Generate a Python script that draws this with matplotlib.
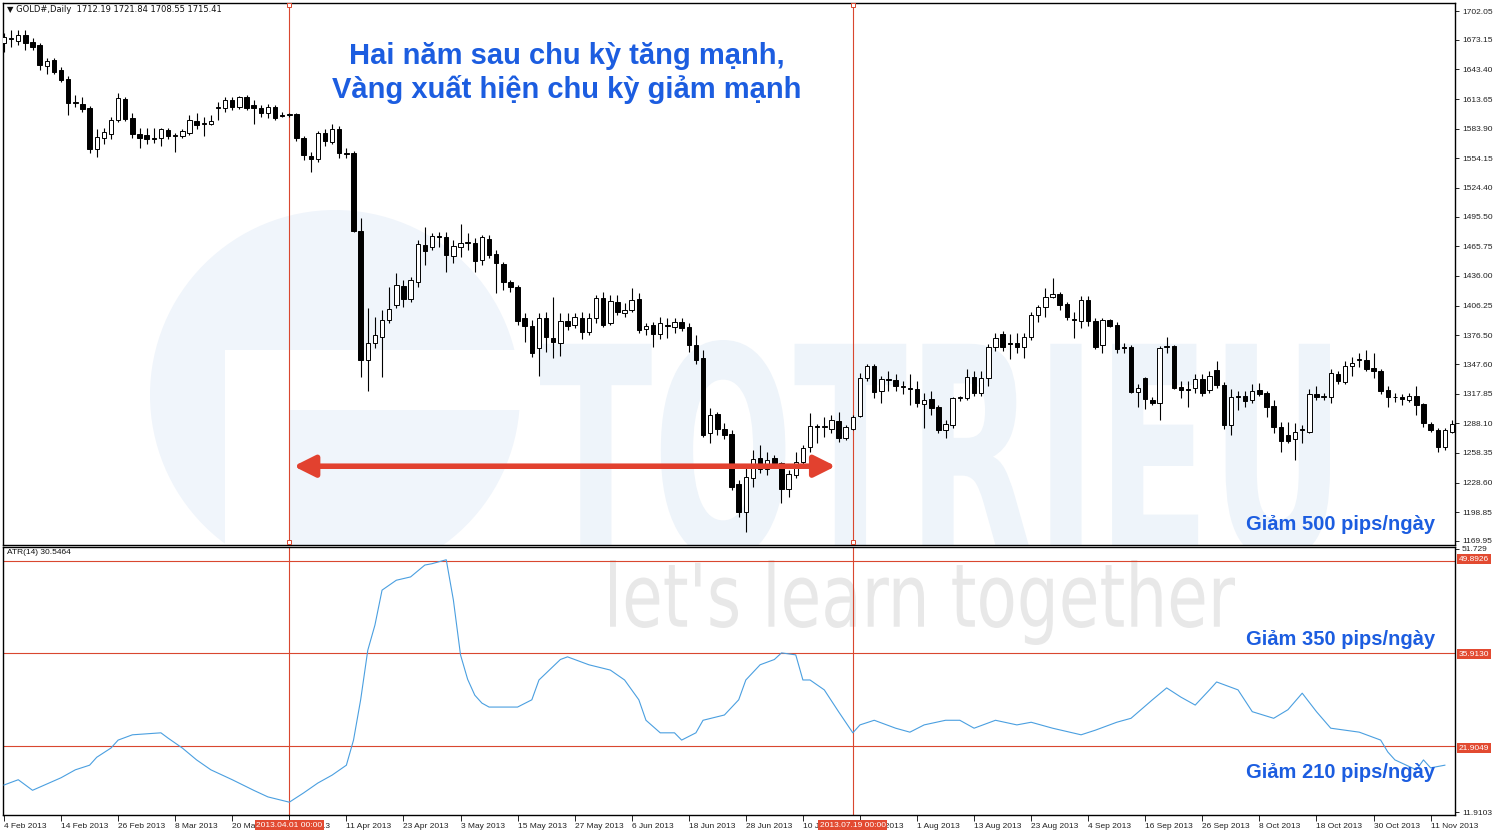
import matplotlib
matplotlib.use("Agg")
import matplotlib.pyplot as plt
from matplotlib.patches import PathPatch, Circle, Rectangle
from matplotlib.textpath import TextPath
from matplotlib.font_manager import FontProperties
from matplotlib import transforms

# --- du lieu nen ngay GOLD (doc tu hinh) ---
opens = [1670, 1674, 1672, 1678, 1671, 1668, 1647, 1653, 1643, 1634,
         1610, 1609, 1605, 1564, 1575, 1579, 1593, 1614, 1595, 1579,
         1578, 1575, 1575, 1583, 1577, 1577, 1580, 1592, 1589, 1589,
         1605, 1605, 1613, 1606, 1616, 1608, 1605, 1600, 1606, 1598,
         1598, 1599, 1575, 1556, 1553, 1580, 1571, 1584, 1559, 1559,
         1481, 1352, 1369, 1375, 1392, 1407, 1426, 1413, 1430, 1467,
         1465, 1476, 1475, 1456, 1465, 1469, 1469, 1452, 1473, 1458,
         1448, 1430, 1425, 1394, 1386, 1364, 1394, 1374, 1369, 1391,
         1387, 1394, 1380, 1394, 1414, 1389, 1410, 1399, 1402, 1413,
         1383, 1387, 1378, 1387, 1385, 1390, 1385, 1367, 1354, 1278,
         1297, 1282, 1277, 1227, 1199, 1233, 1253, 1242, 1253, 1248,
         1222, 1236, 1249, 1264, 1285, 1284, 1282, 1290, 1273, 1282,
         1295, 1334, 1346, 1321, 1333, 1332, 1325, 1324, 1323, 1307,
         1312, 1304, 1281, 1286, 1313, 1313, 1335, 1319, 1334, 1365,
         1378, 1369, 1369, 1365, 1375, 1397, 1405, 1415, 1418, 1408,
         1393, 1391, 1412, 1391, 1367, 1392, 1387, 1365, 1365, 1320,
         1334, 1311, 1308, 1365, 1366, 1325, 1323, 1324, 1333, 1322,
         1342, 1327, 1286, 1316, 1316, 1311, 1322, 1319, 1305, 1284,
         1276, 1272, 1282, 1279, 1318, 1315, 1314, 1338, 1330, 1346,
         1352, 1352, 1344, 1341, 1322, 1314, 1314, 1311, 1316, 1307,
         1287, 1281, 1264, 1279]
highs = [1680, 1683, 1683, 1683, 1675, 1670, 1655, 1655, 1646, 1637,
         1618, 1616, 1607, 1584, 1585, 1596, 1620, 1616, 1600, 1585,
         1585, 1585, 1585, 1585, 1580, 1584, 1598, 1600, 1596, 1598,
         1611, 1616, 1616, 1617, 1618, 1613, 1608, 1609, 1608, 1601,
         1600, 1600, 1577, 1560, 1582, 1584, 1589, 1587, 1565, 1562,
         1494, 1404, 1395, 1402, 1425, 1439, 1432, 1435, 1472, 1485,
         1479, 1480, 1480, 1472, 1488, 1479, 1474, 1477, 1477, 1462,
         1450, 1432, 1427, 1399, 1392, 1399, 1400, 1415, 1399, 1399,
         1399, 1400, 1399, 1417, 1420, 1417, 1417, 1409, 1424, 1419,
         1389, 1390, 1395, 1394, 1394, 1394, 1389, 1377, 1362, 1303,
         1299, 1288, 1281, 1231, 1243, 1261, 1266, 1259, 1256, 1249,
         1241, 1259, 1266, 1298, 1287, 1294, 1296, 1299, 1286, 1296,
         1339, 1348, 1348, 1336, 1341, 1338, 1331, 1338, 1331, 1319,
         1321, 1306, 1291, 1314, 1316, 1343, 1341, 1341, 1368, 1379,
         1381, 1378, 1379, 1379, 1400, 1407, 1424, 1434, 1420, 1410,
         1400, 1416, 1416, 1394, 1394, 1393, 1390, 1369, 1367, 1328,
         1335, 1314, 1366, 1375, 1367, 1331, 1331, 1338, 1338, 1341,
         1351, 1330, 1323, 1321, 1321, 1328, 1329, 1321, 1311, 1289,
         1289, 1288, 1286, 1323, 1326, 1319, 1343, 1341, 1351, 1355,
         1359, 1362, 1359, 1343, 1326, 1319, 1318, 1319, 1326, 1308,
         1289, 1283, 1283, 1291]
lows = [1661, 1666, 1668, 1663, 1663, 1643, 1639, 1639, 1631, 1598,
        1606, 1601, 1559, 1555, 1569, 1574, 1591, 1592, 1575, 1565,
        1569, 1570, 1567, 1574, 1560, 1575, 1578, 1584, 1577, 1588,
        1593, 1601, 1603, 1604, 1603, 1589, 1596, 1595, 1593, 1596,
        1596, 1572, 1552, 1540, 1550, 1567, 1569, 1554, 1554, 1480,
        1335, 1321, 1364, 1335, 1389, 1404, 1405, 1410, 1425, 1447,
        1462, 1465, 1440, 1449, 1455, 1462, 1440, 1447, 1454, 1419,
        1422, 1420, 1387, 1370, 1355, 1336, 1360, 1354, 1356, 1382,
        1384, 1373, 1377, 1389, 1385, 1387, 1397, 1395, 1400, 1379,
        1377, 1365, 1373, 1374, 1379, 1381, 1360, 1348, 1274, 1268,
        1276, 1272, 1221, 1194, 1179, 1224, 1238, 1236, 1246, 1208,
        1214, 1233, 1246, 1259, 1268, 1274, 1278, 1269, 1271, 1281,
        1294, 1331, 1313, 1308, 1321, 1321, 1318, 1306, 1304, 1283,
        1296, 1278, 1273, 1283, 1310, 1311, 1316, 1316, 1326, 1361,
        1361, 1353, 1359, 1354, 1372, 1390, 1395, 1414, 1402, 1392,
        1374, 1384, 1386, 1363, 1359, 1385, 1359, 1359, 1319, 1304,
        1302, 1306, 1291, 1359, 1323, 1313, 1304, 1319, 1316, 1319,
        1324, 1282, 1276, 1301, 1304, 1308, 1316, 1294, 1278, 1259,
        1268, 1251, 1268, 1278, 1311, 1311, 1308, 1328, 1328, 1336,
        1345, 1341, 1334, 1318, 1304, 1309, 1306, 1309, 1296, 1284,
        1279, 1259, 1261, 1278]
closes = [1676, 1675, 1678, 1670, 1666, 1648, 1652, 1641, 1633, 1610,
          1611, 1604, 1564, 1576, 1581, 1593, 1615, 1594, 1579, 1575,
          1574, 1574, 1584, 1577, 1578, 1582, 1593, 1588, 1590, 1592,
          1606, 1613, 1606, 1616, 1605, 1605, 1600, 1606, 1595, 1597,
          1599, 1575, 1557, 1553, 1580, 1572, 1584, 1559, 1558, 1481,
          1352, 1369, 1377, 1392, 1403, 1427, 1413, 1432, 1468, 1461,
          1476, 1475, 1457, 1466, 1469, 1470, 1451, 1475, 1457, 1449,
          1430, 1425, 1391, 1386, 1359, 1394, 1375, 1370, 1391, 1386,
          1395, 1380, 1394, 1414, 1387, 1411, 1400, 1402, 1412, 1382,
          1386, 1378, 1389, 1386, 1390, 1384, 1367, 1352, 1276, 1296,
          1282, 1276, 1224, 1199, 1234, 1252, 1242, 1251, 1248, 1222,
          1237, 1249, 1263, 1285, 1284, 1285, 1291, 1273, 1284, 1294,
          1334, 1346, 1320, 1333, 1332, 1326, 1326, 1323, 1308, 1311,
          1303, 1281, 1287, 1313, 1314, 1335, 1319, 1334, 1365, 1374,
          1365, 1368, 1365, 1375, 1397, 1405, 1415, 1418, 1407, 1395,
          1392, 1412, 1391, 1365, 1392, 1386, 1363, 1364, 1320, 1324,
          1312, 1308, 1364, 1366, 1324, 1322, 1322, 1333, 1319, 1336,
          1327, 1286, 1315, 1315, 1310, 1321, 1318, 1304, 1284, 1270,
          1270, 1279, 1281, 1318, 1315, 1316, 1339, 1331, 1346, 1349,
          1353, 1343, 1341, 1321, 1315, 1315, 1312, 1316, 1306, 1288,
          1281, 1264, 1281, 1287]

# ATR(14) doc tai mot so diem
atr_idx = [0, 2, 4, 8, 10, 12, 13, 15, 16, 18, 22, 23, 25, 27, 29, 32, 35, 37,
           40, 42, 44, 46, 48, 49, 50, 51, 52, 53, 55, 57, 59, 60, 61, 62, 63,
           64, 65, 66, 67, 68, 72, 74, 75, 78, 79, 82, 85, 87, 89, 90, 92, 94,
           95, 97, 98, 101, 103, 104, 106, 108, 109, 111, 112, 113, 115, 117,
           119, 120, 122, 125, 127, 129, 132, 134, 136, 139, 142, 144, 147,
           151, 153, 156, 158, 161, 163, 165, 167, 169, 170, 173, 175, 178,
           180, 182, 184, 186, 190, 193, 194, 195, 198, 199, 200, 202]
atr_val = [16.0, 16.8, 15.2, 17.1, 18.3, 19.0, 20.2, 21.6, 22.8, 23.6, 23.9,
           23.1, 21.6, 19.8, 18.3, 16.8, 15.2, 14.2, 13.4, 14.8, 16.3, 17.5,
           19.0, 22.8, 28.9, 36.4, 40.2, 45.5, 47.0, 47.5, 49.3, 49.5, 49.8,
           50.1, 44.0, 35.7, 32.0, 29.6, 28.4, 27.8, 27.8, 28.9, 31.9, 35.0,
           35.4, 34.2, 33.4, 31.9, 28.9, 25.8, 23.9, 23.9, 22.8, 23.9, 25.8,
           26.6, 28.9, 31.9, 34.2, 35.0, 36.0, 35.7, 31.9, 31.9, 30.4, 27.1,
           23.9, 25.1, 25.8, 24.6, 24.0, 25.1, 25.8, 25.8, 24.6, 25.8, 25.1,
           25.5, 24.6, 23.6, 24.3, 25.5, 26.1, 28.9, 30.7, 29.3, 28.1, 30.4,
           31.6, 30.4, 27.1, 26.1, 27.4, 29.9, 27.1, 24.6, 24.0, 22.8, 21.0,
           19.8, 18.3, 19.8, 18.6, 19.0]

price_ticks = [1702.05, 1673.15, 1643.40, 1613.65, 1583.90, 1554.15, 1524.40,
               1495.50, 1465.75, 1436.00, 1406.25, 1376.50, 1347.60, 1317.85,
               1288.10, 1258.35, 1228.60, 1198.85, 1169.95]
atr_levels = [49.8926, 35.9130, 21.9049]
date_idx = list(range(0, 201, 8))
date_labels = ["4 Feb 2013", "14 Feb 2013", "26 Feb 2013", "8 Mar 2013",
               "20 Mar 2013", "1 Apr 2013", "11 Apr 2013", "23 Apr 2013",
               "3 May 2013", "15 May 2013", "27 May 2013", "6 Jun 2013",
               "18 Jun 2013", "28 Jun 2013", "10 Jul 2013", "22 Jul 2013",
               "1 Aug 2013", "13 Aug 2013", "23 Aug 2013", "4 Sep 2013",
               "16 Sep 2013", "26 Sep 2013", "8 Oct 2013", "18 Oct 2013",
               "30 Oct 2013", "11 Nov 2013"]
vline_idx = [40, 119]
vline_labels = ["2013.04.01 00:00", "2013.07.19 00:00"]
arrow_from, arrow_to, arrow_price = 40.6, 116.6, 1245.0

W, H = 1500, 838
RED = "#d9472f"
BLUE = "#1c5de0"
SMALL = ["Liberation Sans", "DejaVu Sans"]

def px(x, y):
    return x / W, 1 - y / H

def stamp(ax, s, x0, x1, ytop, ybot, color, weight="bold"):
    # chu nen (watermark) keo gian vao mot khung pixel
    tp = TextPath((0, 0), s, size=100,
                  prop=FontProperties(family="DejaVu Sans", weight=weight))
    bb = tp.get_extents()
    tr = (transforms.Affine2D().translate(-bb.x0, -bb.y0)
          .scale((x1 - x0) / bb.width, (ybot - ytop) / bb.height)
          .translate(x0, H - ybot))
    ax.add_patch(PathPatch(tp, transform=tr, facecolor=color, lw=0, zorder=0.5))

fig = plt.figure(figsize=(W / 100, H / 100), dpi=100)
ax_p = fig.add_axes([3 / W, 1 - 545 / H, 1452 / W, 542 / H])
ax_a = fig.add_axes([3 / W, 1 - 815 / H, 1452 / W, 268 / H])

# watermark: logo tron co chu T
ident = transforms.IdentityTransform()
ax_p.add_patch(Circle((335, H - 395), 185, transform=ident,
                      facecolor="#f0f5fb", lw=0, zorder=0.4))
ax_p.add_patch(Rectangle((225, H - 545), 65, 195, transform=ident,
                         facecolor="white", lw=0, zorder=0.45))
ax_p.add_patch(Rectangle((225, H - 410), 300, 60, transform=ident,
                         facecolor="white", lw=0, zorder=0.45))
stamp(ax_p, "TOTRIEU", 540, 1330, 340, 560, "#eef4fa")
stamp(ax_a, "let's learn together", 610, 1235, 560, 645, "#e8e8e8", weight="normal")

x = list(range(len(closes)))
ax_p.vlines(x, lows, highs, color="black", lw=0.8, zorder=2)
for i in x:
    o, c = opens[i], closes[i]
    bottom = min(o, c)
    height = max(abs(c - o), 0.8)
    face = "white" if c >= o else "black"
    ax_p.bar(i, height, bottom=bottom, width=0.62, color=face,
             edgecolor="black", lw=0.7, zorder=3)

xl = (-0.14, 203.42)
for ax in (ax_p, ax_a):
    ax.set_xlim(*xl)
    for v in vline_idx:
        ax.axvline(v, color=RED, lw=0.8, zorder=1.5)
    for s in ax.spines.values():
        s.set_linewidth(1.0)
        s.set_color("black")

ax_p.set_ylim(1165.9, 1710.1)
ax_p.yaxis.tick_right()
ax_p.set_yticks(price_ticks)
ax_p.set_yticklabels(["%.2f" % v for v in price_ticks])
ax_p.tick_params(axis="y", direction="out", length=3, width=0.6, labelsize=6,
                 pad=2, labelcolor="#222222")
ax_p.set_xticks([])
for v in vline_idx:
    ax_p.plot([v, v], [1708.0, 1168.5], ls="none", marker="s", ms=3,
              mfc="white", mec=RED, mew=0.7, zorder=5, clip_on=False)

ax_p.annotate("", xy=(arrow_to, arrow_price), xytext=(arrow_from, arrow_price),
              arrowprops=dict(arrowstyle="<|-|>", color="#e2412f", lw=4,
                              mutation_scale=32, shrinkA=0, shrinkB=0),
              zorder=6)

# ATR
ax_a.plot(atr_idx, atr_val, color="#4a9fe0", lw=0.8, zorder=3)
for lv in atr_levels:
    ax_a.axhline(lv, color=RED, lw=0.8, zorder=1.5)
ax_a.set_ylim(11.46, 52.03)
ax_a.yaxis.tick_right()
ax_a.set_yticks([51.729, 11.9103])
ax_a.set_yticklabels(["51.729", "11.9103"])
ax_a.tick_params(axis="y", direction="out", length=3, width=0.6, labelsize=6,
                 pad=2, labelcolor="#222222")
ax_a.set_xticks(date_idx)
ax_a.set_xticklabels(date_labels, ha="left")
ax_a.tick_params(axis="x", direction="out", length=4, width=0.6, labelsize=6,
                 pad=2, labelcolor="#222222")
for lab in ax_a.get_xticklabels() + ax_a.get_yticklabels() + ax_p.get_yticklabels():
    lab.set_family(SMALL)

for lv, yy in zip(atr_levels, [559, 654, 748]):
    fig.text(*px(1459, yy), "%.4f" % lv, fontsize=6, color="white",
             family=SMALL, ha="left", va="center",
             bbox=dict(facecolor="#e24a31", edgecolor="none", pad=1.2))
for v, lab in zip(vline_idx, vline_labels):
    xp = 3 + (v - xl[0]) / (xl[1] - xl[0]) * 1452
    fig.text(*px(xp, 825), lab, fontsize=6, color="white", family=SMALL,
             ha="center", va="center",
             bbox=dict(facecolor="#e24a31", edgecolor="none", pad=1.2))

fig.text(*px(7, 9), "\u25bc GOLD#,Daily  1712.19 1721.84 1708.55 1715.41",
         fontsize=6, family=["DejaVu Sans"], color="#111111", va="center")
fig.text(*px(7, 553), "ATR(14) 30.5464", fontsize=6, family=SMALL,
         color="#111111", va="center")

fig.text(*px(567, 73), "Hai năm sau chu kỳ tăng mạnh,\nVàng xuất hiện chu kỳ giảm mạnh",
         fontsize=21, fontweight="bold", family=SMALL, color=BLUE,
         ha="center", va="center", linespacing=1.25)
for txt, yy in [("Giảm 500 pips/ngày", 525), ("Giảm 350 pips/ngày", 639),
                ("Giảm 210 pips/ngày", 772)]:
    fig.text(*px(1435, yy), txt, fontsize=14.5, fontweight="bold", family=SMALL,
             color=BLUE, ha="right", va="center")

fig.savefig("out.png", dpi=100)
